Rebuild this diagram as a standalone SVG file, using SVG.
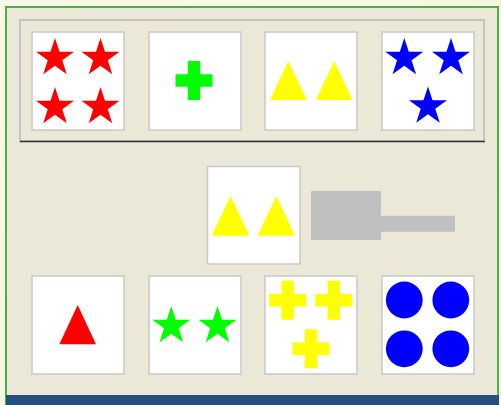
<svg xmlns="http://www.w3.org/2000/svg" xmlns:xlink="http://www.w3.org/1999/xlink" width="501" height="405" viewBox="0 0 501 405">
<style>
.card{fill:#ffffff;stroke:#c8c8c8;stroke-width:1.5}
.red{fill:#ff0000}
.green{fill:#00ff00}
.yellow{fill:#ffff00}
.blue{fill:#0000ff}
.gray{fill:#c0c0c0}
</style>
<defs>
<path id="star" d="M0,-20 L4.49,-6.18 L19.02,-6.18 L7.27,2.36 L11.76,16.18 L0,7.64 L-11.76,16.18 L-7.27,2.36 L-19.02,-6.18 L-4.49,-6.18 Z"/>
<path id="cross" d="M-6.2,-19.5 H6.2 V-6.2 H18.5 V6.2 H6.2 V19.5 H-6.2 V6.2 H-18.5 V-6.2 H-6.2 Z"/>
<linearGradient id="bg" x1="0" y1="0" x2="1" y2="1">
<stop offset="0" stop-color="#fafae6"/>
<stop offset="1" stop-color="#f0f4d8"/>
</linearGradient>
</defs>
<rect x="0" y="0" width="501" height="405" fill="url(#bg)"/>
<rect x="6" y="7" width="492" height="398" fill="#ebe8d8" stroke="#4cae4c" stroke-width="2"/>
<rect x="6" y="395" width="493" height="10" fill="#264f7e"/>
<g id="groupbox">
<rect x="20" y="20" width="464" height="121" fill="none" stroke="#c4c4c4" stroke-width="2"/>
<line x1="20" y1="141.5" x2="485" y2="141.5" stroke="#333333" stroke-width="1.5"/>
</g>
<g id="card-red-stars">
<rect class="card" x="32" y="32" width="92" height="98"/>
<use xlink:href="#star" class="red" x="55" y="58"/>
<use xlink:href="#star" class="red" x="100.5" y="58"/>
<use xlink:href="#star" class="red" x="55" y="107"/>
<use xlink:href="#star" class="red" x="100.5" y="107"/>
</g>
<g id="card-green-cross">
<rect class="card" x="149" y="32" width="92" height="98"/>
<use xlink:href="#cross" class="green" x="194" y="80.5"/>
</g>
<g id="card-yellow-triangles">
<rect class="card" x="265" y="32" width="92" height="98"/>
<polygon class="yellow" points="270,100 288.3,61 306.7,100"/>
<polygon class="yellow" points="316,100 334.2,61 352.4,100"/>
</g>
<g id="card-blue-stars">
<rect class="card" x="382" y="32" width="92" height="98"/>
<use xlink:href="#star" class="blue" x="404.3" y="58"/>
<use xlink:href="#star" class="blue" x="451" y="58"/>
<use xlink:href="#star" class="blue" x="428" y="106.5"/>
</g>
<g id="card-question">
<rect class="card" x="207.5" y="166.5" width="92.5" height="97.5"/>
<polygon class="yellow" points="211.7,235.7 230.5,196 249.3,235.7"/>
<polygon class="yellow" points="257.7,235.7 276.4,196 295,235.7"/>
</g>
<g id="connectors">
<path class="gray" d="M311,191 H381 V215.7 H455 V231.7 H381 V240 H311 Z"/>
</g>
<g id="card-red-triangle">
<rect class="card" x="32" y="276" width="92" height="98"/>
<polygon class="red" points="59.3,344.3 77.7,305 96,344.3"/>
</g>
<g id="card-green-stars">
<rect class="card" x="149" y="276" width="92" height="98"/>
<use xlink:href="#star" class="green" x="171.3" y="326"/>
<use xlink:href="#star" class="green" x="217.5" y="326"/>
</g>
<g id="card-yellow-crosses">
<rect class="card" x="265" y="276" width="92" height="98"/>
<use xlink:href="#cross" class="yellow" x="287.7" y="300.3"/>
<use xlink:href="#cross" class="yellow" x="333.8" y="300.3"/>
<use xlink:href="#cross" class="yellow" x="311" y="348.8"/>
</g>
<g id="card-blue-circles">
<rect class="card" x="382" y="276" width="92" height="98"/>
<circle class="blue" cx="404.3" cy="300" r="18.4"/>
<circle class="blue" cx="450.8" cy="300" r="18.4"/>
<circle class="blue" cx="404.3" cy="348.8" r="18.4"/>
<circle class="blue" cx="450.8" cy="348.8" r="18.4"/>
</g>
</svg>
